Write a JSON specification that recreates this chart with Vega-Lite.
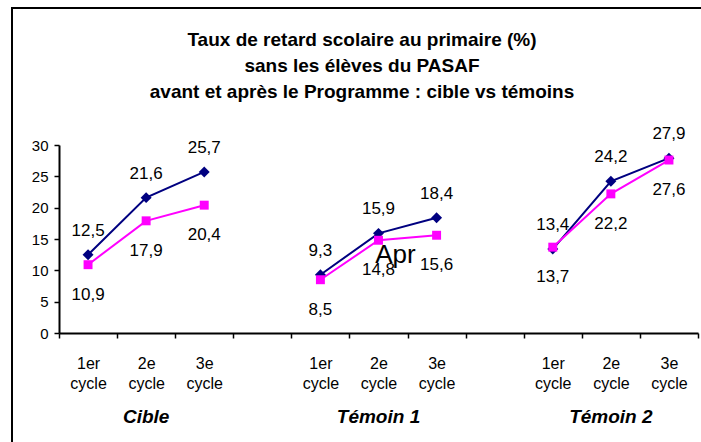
{
  "$schema": "https://vega.github.io/schema/vega-lite/v6.json",
  "autosize": "none",
  "padding": {"left": 12, "top": 8, "right": 0, "bottom": 0},
  "width": 760,
  "height": 460,
  "background": "#ffffff",
  "config": {
    "view": {"stroke": "#000000", "strokeWidth": 2},
    "font": "Liberation Sans",
    "axis": {"labelColor": "#000000", "domainColor": "#000000", "tickColor": "#000000", "grid": false, "title": null}
  },
  "title": {
    "text": ["Taux de retard scolaire au primaire (%)", "sans les élèves du PASAF", "avant et après le Programme : cible vs témoins"],
    "font": "Liberation Sans",
    "fontSize": 19,
    "fontWeight": "bold",
    "lineHeight": 26,
    "color": "#000000",
    "anchor": "middle",
    "baseline": "top",
    "offset": -94,
    "dx": -30
  },
  "data": {
    "values": [
      {"slot": "c1", "grp": "Cible", "serie": "Avant", "v": 12.5, "lab": "12,5"},
      {"slot": "c2", "grp": "Cible", "serie": "Avant", "v": 21.6, "lab": "21,6"},
      {"slot": "c3", "grp": "Cible", "serie": "Avant", "v": 25.7, "lab": "25,7"},
      {"slot": "c1", "grp": "Cible", "serie": "Après", "v": 10.9, "lab": "10,9"},
      {"slot": "c2", "grp": "Cible", "serie": "Après", "v": 17.9, "lab": "17,9"},
      {"slot": "c3", "grp": "Cible", "serie": "Après", "v": 20.4, "lab": "20,4"},
      {"slot": "a1", "grp": "Témoin 1", "serie": "Avant", "v": 9.3, "lab": "9,3"},
      {"slot": "a2", "grp": "Témoin 1", "serie": "Avant", "v": 15.9, "lab": "15,9"},
      {"slot": "a3", "grp": "Témoin 1", "serie": "Avant", "v": 18.4, "lab": "18,4"},
      {"slot": "a1", "grp": "Témoin 1", "serie": "Après", "v": 8.5, "lab": "8,5"},
      {"slot": "a2", "grp": "Témoin 1", "serie": "Après", "v": 14.8, "lab": "14,8"},
      {"slot": "a3", "grp": "Témoin 1", "serie": "Après", "v": 15.6, "lab": "15,6"},
      {"slot": "b1", "grp": "Témoin 2", "serie": "Avant", "v": 13.4, "lab": "13,4"},
      {"slot": "b2", "grp": "Témoin 2", "serie": "Avant", "v": 24.2, "lab": "24,2"},
      {"slot": "b3", "grp": "Témoin 2", "serie": "Avant", "v": 27.9, "lab": "27,9"},
      {"slot": "b1", "grp": "Témoin 2", "serie": "Après", "v": 13.7, "lab": "13,7"},
      {"slot": "b2", "grp": "Témoin 2", "serie": "Après", "v": 22.2, "lab": "22,2"},
      {"slot": "b3", "grp": "Témoin 2", "serie": "Après", "v": 27.6, "lab": "27,6"}
    ]
  },
  "resolve": {"axis": {"x": "independent"}},
  "encoding": {
    "y": {
      "field": "v",
      "type": "quantitative",
      "scale": {"domain": [0, 30], "range": [325, 137], "nice": false, "zero": false},
      "axis": {"offset": -47, "values": [0, 5, 10, 15, 20, 25, 30], "labelFontSize": 15, "tickSize": 5, "labelPadding": 6, "domainWidth": 2, "tickWidth": 1.5}
    }
  },
  "layer": [
    {
      "mark": {"type": "line", "strokeWidth": 2},
      "encoding": {
        "x": {
          "field": "slot", "type": "nominal",
          "scale": {"type": "band", "domain": ["c1", "c2", "c3", "g1", "a1", "a2", "a3", "g2", "b1", "b2", "b3"], "range": [47, 686], "padding": 0},
          "axis": {
            "orient": "bottom", "offset": -135, "tickBand": "extent", "tickSize": 5, "tickWidth": 1.5, "domainWidth": 2,
            "labelAngle": 0, "labelFontSize": 16, "labelLineHeight": 20, "labelPadding": 17,
            "labelExpr": "indexof(['c1','a1','b1'], datum.value) >= 0 ? ['1er','cycle'] : indexof(['c2','a2','b2'], datum.value) >= 0 ? ['2e','cycle'] : indexof(['c3','a3','b3'], datum.value) >= 0 ? ['3e','cycle'] : ''"
          }
        },
        "color": {"field": "serie", "type": "nominal", "scale": {"domain": ["Avant", "Après"], "range": ["#000080", "#FF00FF"]}, "legend": null},
        "detail": {"field": "grp", "type": "nominal"}
      }
    },
    {
      "mark": {"type": "point", "filled": true, "opacity": 1},
      "encoding": {
        "x": {
          "field": "slot", "type": "nominal",
          "scale": {"type": "band", "domain": ["c1", "c2", "c3", "g1", "a1", "a2", "a3", "g2", "b1", "b2", "b3"], "range": [47, 686], "padding": 0},
          "axis": {
            "orient": "bottom", "offset": -135, "ticks": false, "tickSize": 0, "domain": false,
            "labelAngle": 0, "labelFontSize": 19, "labelFontWeight": "bold", "labelFontStyle": "italic", "labelPadding": 74,
            "labelExpr": "datum.value == 'c2' ? 'Cible' : datum.value == 'a2' ? 'Témoin 1' : datum.value == 'b2' ? 'Témoin 2' : ''"
          }
        },
        "color": {"field": "serie", "type": "nominal", "scale": {"domain": ["Avant", "Après"], "range": ["#000080", "#FF00FF"]}, "legend": null},
        "shape": {"field": "serie", "type": "nominal", "scale": {"domain": ["Avant", "Après"], "range": ["diamond", "square"]}, "legend": null},
        "size": {"field": "serie", "type": "nominal", "scale": {"domain": ["Avant", "Après"], "range": [120, 80]}, "legend": null}
      }
    },
    {
      "transform": [{"filter": "datum.serie == 'Avant'"}],
      "mark": {"type": "text", "fontSize": 17, "color": "#000000", "baseline": "middle", "dy": -24},
      "encoding": {
        "x": {"field": "slot", "type": "nominal", "axis": null},
        "text": {"field": "lab"}
      }
    },
    {
      "transform": [{"filter": "datum.serie == 'Après'"}],
      "mark": {"type": "text", "fontSize": 17, "color": "#000000", "baseline": "middle", "dy": 30},
      "encoding": {
        "x": {"field": "slot", "type": "nominal", "axis": null},
        "text": {"field": "lab"}
      }
    },
    {
      "data": {"values": [{"slot": "a2", "v": 11.2, "t": "Apr"}]},
      "mark": {"type": "text", "fontSize": 26, "color": "#000000", "baseline": "alphabetic", "dx": 17},
      "encoding": {
        "x": {"field": "slot", "type": "nominal", "axis": null},
        "text": {"field": "t"}
      }
    }
  ]
}
